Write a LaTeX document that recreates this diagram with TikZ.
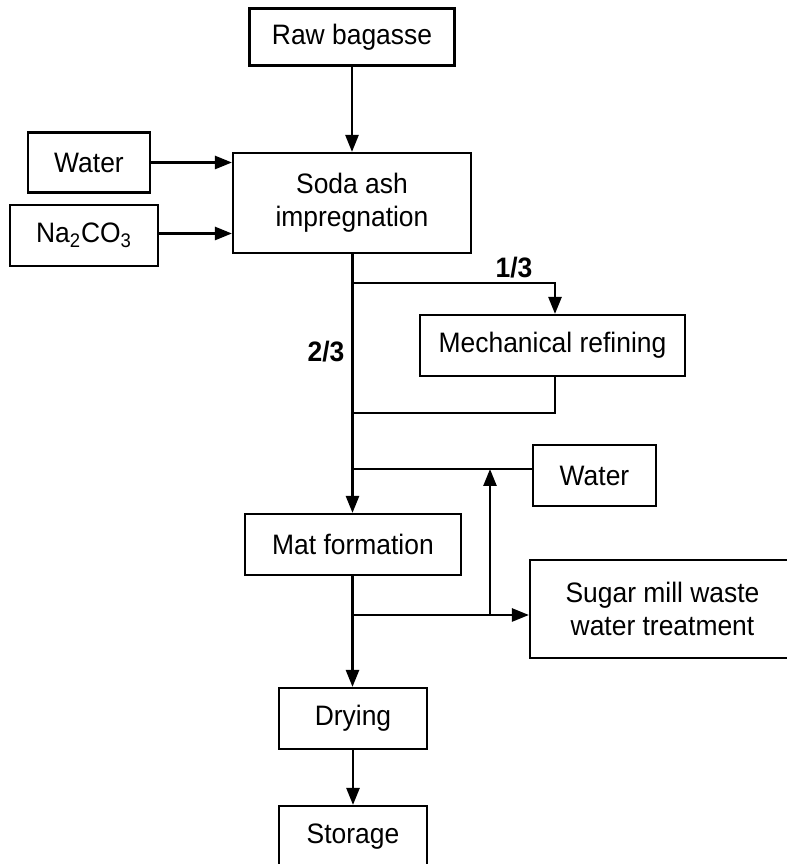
\documentclass[tikz,border=0pt]{standalone}
\usepackage{fontspec}
\setmainfont{Liberation Sans}[FakeStretch=0.94]
\usepackage{tikz}
\usetikzlibrary{arrows.meta, positioning, calc}

\begin{document}
\begin{tikzpicture}[
  >={Triangle[length=0.34cm, width=0.26cm]},
  proc/.style={
    rectangle, draw, line width=1.2pt, inner sep=0pt,
    align=center, font=\fontsize{16}{18.8}\selectfont
  },
  flow/.style={line width=1.45pt},
  frac/.style={font=\fontsize{16}{18.8}\selectfont\bfseries},
]
\useasboundingbox (0,0) rectangle (15.74,17.28);

%%% Main column
\node[proc, minimum width=4.1cm,  minimum height=1.14cm] (raw)   at (7.04,16.54) {Raw bagasse};
\node[proc, minimum width=4.76cm, minimum height=2.0cm]  (soda)  at (7.04,13.22) {Soda ash\\impregnation};
\node[proc, minimum width=4.32cm, minimum height=1.22cm] (mat)   at (7.06,6.39)  {Mat formation};
\node[proc, minimum width=2.96cm, minimum height=1.22cm] (dry)   at (7.06,2.91)  {Drying};
\node[proc, minimum width=2.96cm, minimum height=1.22cm] (store) at (7.06,0.55)  {Storage};

%%% Inputs on the left
\node[proc, minimum width=2.44cm, minimum height=1.2cm]  (water) at (1.78,14.03) {Water};
\node[proc, minimum width=2.96cm, minimum height=1.22cm] (naco)  at (1.68,12.57)
  {Na\textsubscript{2}CO\textsubscript{3}};

%%% Side boxes on the right
\node[proc, minimum width=5.3cm,  minimum height=1.22cm] (mech)   at (11.05,10.37) {Mechanical refining};
\node[proc, minimum width=2.46cm, minimum height=1.22cm] (water2) at (11.89,7.77)  {Water};
\node[proc, minimum width=5.3cm,  minimum height=1.96cm] (sugar)  at (13.25,5.1)   {Sugar mill waste\\water treatment};

%%% Junctions on the main line
\coordinate (split) at (7.05,11.62);
\coordinate (join)  at (7.05,9.02);
\coordinate (mix)   at (7.05,7.9);
\coordinate (out)   at (7.05,4.98);
\coordinate (rec)   at (9.8,4.98);

%%% Edges
\draw[flow,->] (raw) -- (soda);
\draw[flow,->] (water) -- (water -| soda.west);
\draw[flow,->] (naco.east |- 0,12.61) -- (soda.west |- 0,12.61);
\draw[flow,->] (soda.south -| split) -- (mat.north -| split);
\draw[flow,->] (split) -| (mech.north -| 11.1,0);
\draw[flow] (mech.south -| 11.1,0) |- (join);
\draw[flow] (mix -| water2.west) -- (mix);
\draw[flow,->] (out) -- (out -| sugar.west);
\draw[flow,->] (rec) -- (rec |- mix);
\draw[flow,->] (mat.south -| split) -- (dry.north -| split);
\draw[flow,->] (dry) -- (store);

%%% Split fractions
\node[frac] (third) at (10.28,11.92) {1/3};
\node[frac] (twothird) at (6.52,10.24) {2/3};

\end{tikzpicture}
\end{document}
